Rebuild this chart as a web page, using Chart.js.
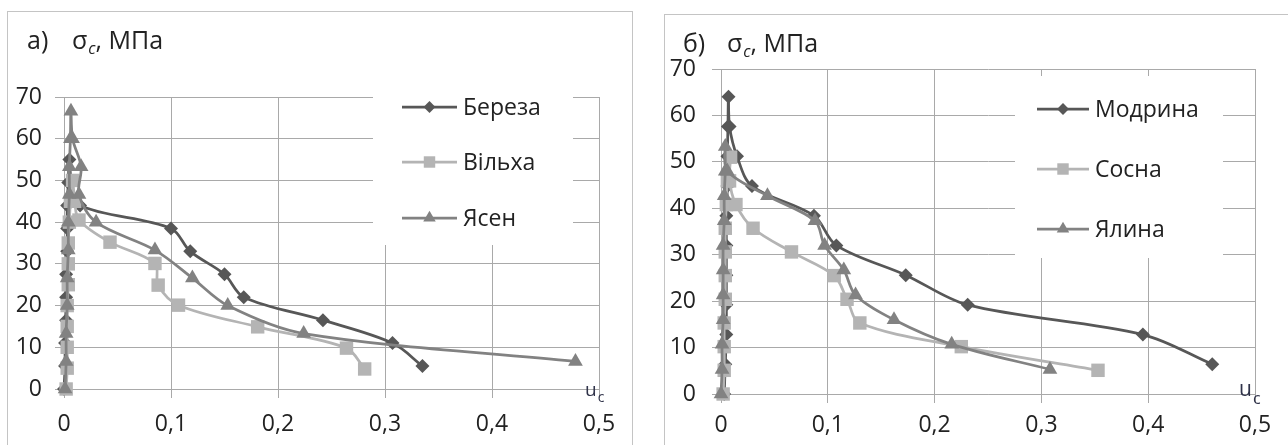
<!DOCTYPE html>
<html>
<head>
<meta charset="utf-8">
<script src="https://cdn.jsdelivr.net/npm/chart.js@4.4.1/dist/chart.umd.min.js"></script>
<style>
  body { margin: 0; background: #fff; width: 1288px; height: 445px; overflow: hidden; position: relative; }
  .frame { position: absolute; border: 1.5px solid #c4c4c4; }
  #frameA { left: 7px; top: 11px; width: 624px; height: 460px; }
  #frameB { left: 664px; top: 14px; width: 660px; height: 460px; }
  #chartA { position: absolute; left: 0; top: 0; }
  #chartB { position: absolute; left: 640px; top: 0; }
</style>
</head>
<body>
<div class="frame" id="frameA"></div>
<div class="frame" id="frameB"></div>
<canvas id="chartA" width="640" height="445"></canvas>
<canvas id="chartB" width="648" height="445"></canvas>
<script>
// ---- data: u_c (x) and sigma_c, MPa (y) ----
const xTicks = [0, 0.1, 0.2, 0.3, 0.4, 0.5];
const xTickLabels = ["0", "0,1", "0,2", "0,3", "0,4", "0,5"];
const yTicks = [0, 10, 20, 30, 40, 50, 60, 70];

// panel а)
const berezaU     = [0, 0.001, 0.001, 0.002, 0.002, 0.002, 0.003, 0.003, 0.003, 0.004, 0.005, 0.007, 0.015, 0.100, 0.118, 0.150, 0.168, 0.242, 0.307, 0.335];
const berezaSigma = [0, 5.5, 11, 16.5, 22, 27.5, 33, 38.5, 44, 49.5, 55, 49.5, 44, 38.5, 33, 27.5, 22, 16.5, 11, 5.5];
const vilkhaU     = [0.002, 0.003, 0.003, 0.003, 0.003, 0.004, 0.004, 0.004, 0.005, 0.006, 0.008, 0.010, 0.014, 0.043, 0.085, 0.088, 0.107, 0.181, 0.264, 0.281];
const vilkhaSigma = [0, 5, 10, 15, 20, 25, 30, 35, 40, 45, 50, 45, 40.5, 35.2, 30.1, 24.9, 20.1, 14.9, 9.8, 4.8];
const yasenU      = [0.001, 0.002, 0.002, 0.003, 0.003, 0.004, 0.004, 0.005, 0.005, 0.006, 0.0065, 0.008, 0.016, 0.014, 0.030, 0.085, 0.120, 0.153, 0.224, 0.478];
const yasenSigma  = [0, 6.6, 13.3, 20, 26.6, 33.3, 40, 46.6, 53.3, 60, 66.6, 60, 53.3, 46.6, 40, 33.3, 26.6, 20, 13.3, 6.6];

// panel б)
const modrynaU     = [0.003, 0.004, 0.005, 0.005, 0.005, 0.005, 0.005, 0.006, 0.006, 0.0065, 0.007, 0.008, 0.015, 0.029, 0.087, 0.108, 0.173, 0.231, 0.395, 0.460];
const modrynaSigma = [0, 6.4, 12.8, 19.2, 25.6, 32, 38.4, 44.8, 51.2, 57.6, 64, 57.6, 51.2, 44.8, 38.4, 32, 25.6, 19.2, 12.8, 6.4];
const sosnaU       = [0.002, 0.003, 0.003, 0.003, 0.004, 0.004, 0.004, 0.004, 0.005, 0.006, 0.009, 0.008, 0.014, 0.030, 0.066, 0.106, 0.118, 0.130, 0.225, 0.353];
const sosnaSigma   = [0, 5.1, 10.2, 15.3, 20.4, 25.5, 30.6, 35.7, 40.8, 45.9, 51, 45.9, 40.8, 35.7, 30.6, 25.5, 20.4, 15.3, 10.2, 5.1];
const yalynaU      = [0, 0.001, 0.001, 0.002, 0.002, 0.002, 0.002, 0.003, 0.003, 0.004, 0.004, 0.006, 0.0435, 0.088, 0.097, 0.115, 0.126, 0.162, 0.216, 0.308];
const yalynaSigma  = [0, 5.3, 10.7, 16, 21.3, 26.7, 32, 37.3, 42.7, 48, 53.3, 48, 42.7, 37.3, 32, 26.7, 21.3, 16, 10.7, 5.3];

const FONT = '"Open Sans", "Noto Sans", sans-serif';
const textColor = '#222222';
const gridColor = '#a9a9a9';
const darkGray = '#575757';
const lightGray = '#b4b4b4';
const midGray = '#828282';

const seriesA = [
    { name: "Береза", u: berezaU, sigma: berezaSigma, color: darkGray, marker: 'rectRot', radius: 7 },
    { name: "Вільха", u: vilkhaU, sigma: vilkhaSigma, color: lightGray, marker: 'rect', radius: 9.5 },
    { name: "Ясен", u: yasenU, sigma: yasenSigma, color: midGray, marker: 'triangle', radius: 8.5 }
];
const seriesB = [
    { name: "Модрина", u: modrynaU, sigma: modrynaSigma, color: darkGray, marker: 'rectRot', radius: 7 },
    { name: "Сосна", u: sosnaU, sigma: sosnaSigma, color: lightGray, marker: 'rect', radius: 9.5 },
    { name: "Ялина", u: yalynaU, sigma: yalynaSigma, color: midGray, marker: 'triangle', radius: 8.5 }
];

// titles, legend and u_c label drawn on top of the plot
const decoPlugin = {
    id: 'deco',
    afterDraw(chart, args, d) {
        const ctx = chart.ctx;
        ctx.save();
        ctx.textBaseline = 'alphabetic';
        ctx.textAlign = 'left';
        ctx.fillStyle = textColor;

        // title: "а)   σc, МПа"
        ctx.font = `25px ${FONT}`;
        ctx.fillText(d.title.prefix, d.title.x, d.title.y);
        ctx.fillText("σ", d.title.sx, d.title.y);
        let x = d.title.sx + ctx.measureText("σ").width + 1;
        ctx.font = `italic 16px ${FONT}`;
        ctx.fillText("c", x, d.title.y + 5);
        x += ctx.measureText("c").width;
        ctx.font = `25px ${FONT}`;
        ctx.fillText(", МПа", x, d.title.y);

        // legend with white background
        const lg = d.legend;
        ctx.fillStyle = '#fff';
        ctx.fillRect(lg.left, lg.top, lg.right - lg.left, lg.bottom - lg.top);
        chart.data.datasets.forEach((ds, i) => {
            const y = lg.rows[i];
            ctx.strokeStyle = ds.borderColor;
            ctx.lineWidth = ds.borderWidth;
            ctx.beginPath();
            ctx.moveTo(lg.x0, y);
            ctx.lineTo(lg.x1, y);
            ctx.stroke();
            ctx.fillStyle = ds.pointBackgroundColor;
            Chart.helpers.drawPoint(ctx, { pointStyle: ds.pointStyle, rotation: 0, radius: ds.pointRadius * 0.85, borderWidth: 0 }, (lg.x0 + lg.x1) / 2, y);
            ctx.fillStyle = textColor;
            ctx.font = `23px ${FONT}`;
            ctx.textBaseline = 'middle';
            ctx.fillText(ds.label, lg.tx, y + 1);
        });

        // axis label u_c
        ctx.textBaseline = 'alphabetic';
        ctx.fillStyle = '#30334a';
        ctx.font = `${d.ulabel.size}px ${FONT}`;
        ctx.fillText("u", d.ulabel.x, d.ulabel.y);
        const uw = ctx.measureText("u").width;
        ctx.font = `${Math.round(d.ulabel.size * 0.75)}px ${FONT}`;
        ctx.fillText("c", d.ulabel.x + uw + 1, d.ulabel.y + d.ulabel.sub);
        ctx.restore();
    }
};

function buildChart(id, series, box, deco) {
    const canvas = document.getElementById(id);
    const W = canvas.width, H = canvas.height;
    const datasets = series.map((s, i) => ({
        label: s.name,
        data: s.u.map((u, k) => ({ x: u, y: s.sigma[k] })),
        showLine: true,
        borderColor: s.color,
        backgroundColor: s.color,
        borderWidth: 2.75,
        pointStyle: s.marker,
        pointRadius: s.radius,
        pointBorderWidth: 0,
        pointBackgroundColor: s.color,
        tension: 0.33,
        clip: false,
        order: series.length - 1 - i
    }));

    return new Chart(canvas.getContext('2d'), {
        type: 'scatter',
        data: { datasets },
        options: {
            responsive: false,
            animation: false,
            events: [],
            layout: { padding: { left: 0, top: box.top, right: W - box.right, bottom: 0 } },
            plugins: {
                legend: { display: false },
                tooltip: { enabled: false },
                deco: deco
            },
            scales: {
                x: {
                    type: 'linear',
                    min: 0,
                    max: 0.5,
                    afterBuildTicks: s => { s.ticks = xTicks.map(v => ({ value: v })); },
                    afterFit: s => { s.height = H - box.bottom; },
                    grid: { color: gridColor, lineWidth: 1, tickLength: 9 },
                    border: { color: gridColor },
                    ticks: {
                        callback: (v, i) => xTickLabels[i],
                        font: { family: FONT, size: 23 },
                        color: textColor,
                        padding: box.xPad,
                        maxRotation: 0
                    }
                },
                y: {
                    type: 'linear',
                    min: 0,
                    max: 70,
                    afterBuildTicks: s => { s.ticks = yTicks.map(v => ({ value: v })); },
                    afterFit: s => { s.width = box.left; },
                    grid: { color: gridColor, lineWidth: 1, tickLength: 9 },
                    border: { color: gridColor },
                    ticks: {
                        font: { family: FONT, size: 23 },
                        color: textColor,
                        padding: box.yPad
                    }
                }
            }
        },
        plugins: [decoPlugin]
    });
}

buildChart('chartA', seriesA,
    { left: 64, right: 599, top: 97, bottom: 389, xPad: 13, yPad: 13 },
    {
        title: { prefix: "а)", x: 27, sx: 72, y: 49 },
        legend: { left: 373, right: 573, top: 88, bottom: 245, rows: [107, 162, 218], x0: 402, x1: 457, tx: 463 },
        ulabel: { x: 585, y: 396, size: 19, sub: 6 }
    });

buildChart('chartB', seriesB,
    { left: 81, right: 615, top: 69, bottom: 394, xPad: 9, yPad: 16 },
    {
        title: { prefix: "б)", x: 43, sx: 87, y: 52 },
        legend: { left: 375, right: 583, top: 76, bottom: 258, rows: [109, 169, 229], x0: 397, x1: 449, tx: 455 },
        ulabel: { x: 599, y: 396, size: 21, sub: 8 }
    });
</script>
</body>
</html>
